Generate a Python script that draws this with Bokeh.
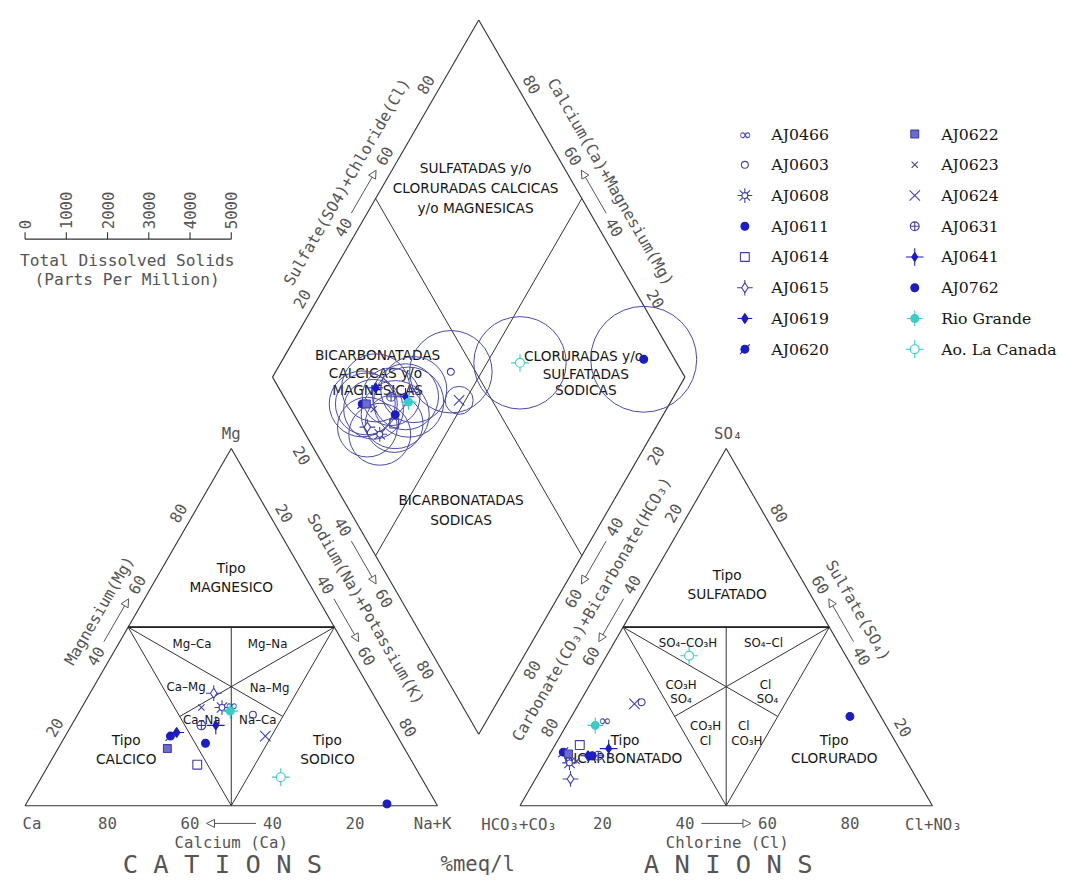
import math
from bokeh.plotting import figure
from bokeh.models import Range1d, Arrow, NormalHead, ColumnDataSource
from bokeh.core.properties import value
from bokeh.embed import file_html
from bokeh.resources import INLINE

# ---------------- data ----------------
samples = ["AJ0466", "AJ0603", "AJ0608", "AJ0611", "AJ0614", "AJ0615", "AJ0619", "AJ0620",
           "AJ0622", "AJ0623", "AJ0624", "AJ0631", "AJ0641", "AJ0762", "Rio Grande", "Ao. La Canada"]
# cations, % meq/l
ca = [36, 32, 38.5, 12, 52.5, 38.5, 53, 55, 57.5, 43.5, 32, 46, 42.5, 47.5, 37, 34]
mg = [28, 25.5, 27.5, 0.5, 11.5, 31.5, 20.5, 19.5, 16, 27.5, 19.5, 22.5, 22.5, 17.5, 26.5, 8]
na_k = [36, 42.5, 34, 87.5, 36, 30, 26.5, 25.5, 26.5, 29, 48.5, 31.5, 35, 35, 36.5, 58]
# anions, % meq/l
hco3 = [67.5, 56, 82, 7.5, 77, 84, 76.5, 82, 81, 80, 58, 74, 70.5, 75.5, 70.5, 38]
so4 = [24, 29, 12, 25, 17, 7.5, 14, 15, 14.5, 12.5, 28.5, 14, 16, 14, 22.5, 42]
cl = [8.5, 15, 6, 67.5, 6, 8.5, 9.5, 3, 4.5, 7.5, 13.5, 12, 13.5, 10.5, 7, 20]
# total dissolved solids, ppm
tds = [1600, 2000, 1500, 2570, 1400, 1450, 1650, 1600, 1500, 1450, 680, 1400, 1600, 1650, 1700, 2240]
tds_ticks = [0, 1000, 2000, 3000, 4000, 5000]
scale_ticks = [20, 40, 60, 80]

# ---------------- layout ----------------
H = math.sqrt(3) / 2
GAP = 20.0
S = 0.982                 # fit the 1090x894 design into the 1074x878 figure
PXU = 4.2                 # design pixels per data unit
OX, OY = 25.0, 820.0      # design pixel of the Ca corner
GRAY = "#555555"
BLACK = "#151515"
LINE = "#333333"
FONT = value("DejaVu Sans")
MONO = value("DejaVu Sans Mono")


def P(px, py):
    return ((px - OX) / PXU, (OY - py) / PXU)


def U(px):
    return px / PXU


def fs(px):
    return f"{px * S:.1f}px"


A = (0.0, 0.0); B = (100.0, 0.0); C = (50.0, 100 * H)
D = (100 + GAP, 0.0); E = (200 + GAP, 0.0); F = (150 + GAP, 100 * H)
LV = (50 + GAP / 2, (100 + GAP) * H); TV = (100 + GAP / 2, (200 + GAP) * H)
RV = (150 + GAP / 2, (100 + GAP) * H); BV = (100 + GAP / 2, GAP * H)


def lerp(a, b, t):
    return (a[0] + (b[0] - a[0]) * t, a[1] + (b[1] - a[1]) * t)


def cat_xy(c, m, n):
    s = c + m + n
    m, n = m * 100 / s, n * 100 / s
    return n + m / 2, m * H


def ani_xy(h, s4, c):
    s = h + s4 + c
    s4, c = s4 * 100 / s, c * 100 / s
    return 100 + GAP + c + s4 / 2, s4 * H


def dia_xy(n, s):
    return LV[0] + 0.5 * (n + s), LV[1] + H * (s - n)


W, HH = 1074, 878
x0 = -OX / PXU
y1 = OY / PXU
span_x = W / (PXU * S)
span_y = HH / (PXU * S)
p = figure(width=W, height=HH, x_range=Range1d(x0, x0 + span_x), y_range=Range1d(y1 - span_y, y1),
           output_backend="svg", toolbar_location=None, min_border=0,
           x_axis_location=None, y_axis_location=None)
p.grid.visible = False
p.outline_line_color = None

# ---------------- frame lines ----------------
segs = []
def poly(*pts):
    for i in range(len(pts) - 1):
        segs.append((pts[i], pts[i + 1]))

poly(A, B, C, A)
poly(D, E, F, D)
poly(LV, TV, RV, BV, LV)
inner = []
inner.append((cat_xy(50, 50, 0), cat_xy(0, 50, 50)))
inner.append((cat_xy(50, 50, 0), cat_xy(50, 0, 50)))
inner.append((cat_xy(0, 50, 50), cat_xy(50, 0, 50)))
inner.append((cat_xy(25, 50, 25), cat_xy(50, 0, 50)))
inner.append((cat_xy(50, 50, 0), cat_xy(25, 25, 50)))
inner.append((cat_xy(0, 50, 50), cat_xy(50, 25, 25)))
inner.append((ani_xy(50, 50, 0), ani_xy(0, 50, 50)))
inner.append((ani_xy(50, 50, 0), ani_xy(50, 0, 50)))
inner.append((ani_xy(0, 50, 50), ani_xy(50, 0, 50)))
inner.append((ani_xy(25, 50, 25), ani_xy(50, 0, 50)))
inner.append((ani_xy(50, 50, 0), ani_xy(25, 25, 50)))
inner.append((ani_xy(0, 50, 50), ani_xy(50, 25, 25)))
inner.append((lerp(LV, TV, 0.5), lerp(RV, BV, 0.5)))
inner.append((lerp(TV, RV, 0.5), lerp(BV, LV, 0.5)))

p.multi_line(xs=[[a[0], b[0]] for a, b in segs], ys=[[a[1], b[1]] for a, b in segs],
             line_color=LINE, line_width=1.1)
p.multi_line(xs=[[a[0], b[0]] for a, b in inner], ys=[[a[1], b[1]] for a, b in inner],
             line_color=LINE, line_width=1.0)
p.multi_line(xs=[[inner[0][0][0], inner[0][1][0]], [inner[6][0][0], inner[6][1][0]]],
             ys=[[inner[0][0][1], inner[0][1][1]], [inner[6][0][1], inner[6][1][1]]],
             line_color="#222222", line_width=1.6)

# ---------------- scales on edges ----------------
tx, ty, tt, ta = [], [], [], []
def add_text(pos, txt, ang=0.0):
    tx.append(pos[0]); ty.append(pos[1]); tt.append(txt); ta.append(ang)

edges = [
    # P0, P1, normal, angle, label offset px, title, title offset px
    (A, C, (-H, 0.5), math.pi / 3, 14, "Magnesium(Mg)", 34),
    (C, B, (H, 0.5), -math.pi / 3, 14, "Sodium(Na)+Potassium(K)", 37),
    (B, A, (0.0, -1.0), 0.0, 18, None, 0),
    (LV, TV, (-H, 0.5), math.pi / 3, 14, "Sulfate(SO4)+Chloride(Cl)", 34),
    (RV, TV, (H, 0.5), -math.pi / 3, 14, "Calcium(Ca)+Magnesium(Mg)", 34),
    (LV, BV, (-H, -0.5), -math.pi / 3, 14, None, 0),
    (RV, BV, (H, -0.5), math.pi / 3, 14, None, 0),
    (F, D, (-H, 0.5), math.pi / 3, 14, "Carbonate(CO\u2083)+Bicarbonate(HCO\u2083)", 37),
    (E, F, (H, 0.5), -math.pi / 3, 14, "Sulfate(SO\u2084)", 34),
    (D, E, (0.0, -1.0), 0.0, 18, None, 0),
]
head = dict(size=8, fill_color="white", line_color=GRAY, line_width=1)
for P0, P1, nrm, ang, off, title, toff in edges:
    o = U(off)
    for v in scale_ticks:
        q = lerp(P0, P1, v / 100)
        add_text((q[0] + nrm[0] * o, q[1] + nrm[1] * o), str(v), ang)
    s0 = lerp(P0, P1, 0.44)
    s1 = lerp(P0, P1, 0.56)
    p.add_layout(Arrow(x_start=s0[0] + nrm[0] * o, y_start=s0[1] + nrm[1] * o,
                       x_end=s1[0] + nrm[0] * o, y_end=s1[1] + nrm[1] * o,
                       line_color=GRAY, line_width=1, end=NormalHead(**head)))
    if title:
        q = lerp(P0, P1, 0.5)
        add_text((q[0] + nrm[0] * U(toff), q[1] + nrm[1] * U(toff)), title, ang)

add_text(P(235, 441), "Mg")
add_text(P(741, 441), "SO\u2084")
add_text(P(32, 838), "Ca")
add_text(P(440, 838), "Na+K")
add_text(P(528, 839), "HCO\u2083+CO\u2083")
add_text(P(950, 839), "Cl+NO\u2083")
add_text(P(235, 857), "Calcium (Ca)")
add_text(P(740, 857), "Chlorine (Cl)")
p.text(x=tx, y=ty, text=tt, angle=ta, text_align="center", text_baseline="middle",
       text_font=MONO, text_font_size=fs(16), text_color=GRAY)

big = ["C A T I O N S", "A N I O N S"]
bpos = [P(226, 879), P(741, 879)]
p.text(x=[q[0] for q in bpos], y=[q[1] for q in bpos], text=big, text_align="center",
       text_baseline="middle", text_font=MONO, text_font_size=fs(26), text_color=GRAY)
q = P(486, 879)
p.text(x=[q[0]], y=[q[1]], text=["%meq/l"], text_align="center", text_baseline="middle",
       text_font=MONO, text_font_size=fs(21), text_color=GRAY)

# ---------------- region labels ----------------
reg = [
    ((235, 578), "Tipo"), ((235, 597), "MAGNESICO"),
    ((195, 655), "Mg\u2013Ca"), ((272, 655), "Mg\u2013Na"),
    ((189, 699), "Ca\u2013Mg"), ((274, 700), "Na\u2013Mg"),
    ((205, 733), "Ca\u2013Na"), ((262, 733), "Na\u2013Ca"),
    ((128, 753), "Tipo"), ((128, 772), "CALCICO"),
    ((333, 753), "Tipo"), ((333, 772), "SODICO"),
    ((740, 585), "Tipo"), ((740, 604), "SULFATADO"),
    ((700, 654), "SO\u2084\u2013CO\u2083H"), ((777, 654), "SO\u2084\u2013Cl"),
    ((693, 697), "CO\u2083H"), ((693, 711), "SO\u2084"),
    ((779, 697), "Cl"), ((781, 711), "SO\u2084"),
    ((718, 739), "CO\u2083H"), ((718, 754), "Cl"),
    ((757, 739), "Cl"), ((760, 754), "CO\u2083H"),
    ((636, 753), "Tipo"), ((634, 771), "BICARBONATADO"),
    ((849, 753), "Tipo"), ((849, 771), "CLORURADO"),
    ((486, 171), "SULFATADAS  y/o"), ((486, 191), "CLORURADAS  CALCICAS"), ((486, 211), "y/o  MAGNESICAS"),
    ((384, 361), "BICARBONATADAS"), ((384, 379), "CALCICAS  y/o"), ((384, 397), "MAGNESICAS"),
    ((596, 362), "CLORURADAS  y/o"), ((596, 380), "SULFATADAS"), ((596, 397), "SODICAS"),
    ((469, 509), "BICARBONATADAS"), ((469, 529), "SODICAS"),
]
small = {"Mg\u2013Ca", "Mg\u2013Na", "Ca\u2013Mg", "Na\u2013Mg", "Ca\u2013Na", "Na\u2013Ca",
         "SO\u2084\u2013CO\u2083H", "SO\u2084\u2013Cl", "CO\u2083H", "SO\u2084", "Cl"}
r1 = [(P(*q), t) for q, t in reg if t not in small]
r2 = [(P(*q), t) for q, t in reg if t in small]
p.text(x=[q[0] for q, _ in r1], y=[q[1] for q, _ in r1], text=[t for _, t in r1],
       text_align="center", text_baseline="middle", text_font=FONT, text_font_size=fs(14),
       text_color=BLACK)
p.text(x=[q[0] for q, _ in r2], y=[q[1] for q, _ in r2], text=[t for _, t in r2],
       text_align="center", text_baseline="middle", text_font=FONT, text_font_size=fs(12),
       text_color=BLACK)

# ---------------- TDS scale ----------------
sy = P(0, 243)[1]
p.line(x=[tds_ticks[0] / 100, tds_ticks[-1] / 100], y=[sy, sy], line_color=LINE, line_width=1.1)
p.segment(x0=[t / 100 for t in tds_ticks], y0=[sy] * len(tds_ticks),
          x1=[t / 100 for t in tds_ticks], y1=[sy + U(7)] * len(tds_ticks),
          line_color=LINE, line_width=1.1)
p.text(x=[t / 100 for t in tds_ticks], y=[sy + U(10)] * len(tds_ticks), text=[str(t) for t in tds_ticks],
       angle=math.pi / 2, text_align="left", text_baseline="middle", text_font=MONO,
       text_font_size=fs(16), text_color=GRAY)
lab = [P(129, 265), P(129, 284)]
p.text(x=[q[0] for q in lab], y=[q[1] for q in lab],
       text=["Total Dissolved Solids", "(Parts Per Million)"], text_align="center",
       text_baseline="middle", text_font=MONO, text_font_size=fs(16.5), text_color=GRAY)

# ---------------- samples ----------------
cat_pts = [cat_xy(ca[i], mg[i], na_k[i]) for i in range(len(samples))]
ani_pts = [ani_xy(hco3[i], so4[i], cl[i]) for i in range(len(samples))]
dia_pts = []
for i in range(len(samples)):
    n = na_k[i] * 100 / (ca[i] + mg[i] + na_k[i])
    s = (so4[i] + cl[i]) * 100 / (hco3[i] + so4[i] + cl[i])
    dia_pts.append(dia_xy(n, s))

# TDS circles: diameter scaled like the TDS bar (5000 ppm = half a triangle side)
p.circle(x=[q[0] for q in dia_pts], y=[q[1] for q in dia_pts], radius=[t / 200 for t in tds],
         fill_color=None, line_color="#4a4aa8", line_width=1)

BLUE = "#4040a8"
DBLUE = "#1c1cc4"
CYAN = "#38cccc"
styles = {
    "AJ0466": [("text", "\u221e", 16, BLUE, None, 0)],
    "AJ0603": [("circle", None, 7, BLUE, None, 0)],
    "AJ0608": [("asterisk", None, 15, BLUE, None, 0), ("circle", None, 6, BLUE, "white", 0)],
    "AJ0611": [("circle", None, 8, DBLUE, DBLUE, 0)],
    "AJ0614": [("square", None, 9, BLUE, None, 0)],
    "AJ0615": [("cross", None, 16, BLUE, None, 0), ("diamond", None, 10, BLUE, "white", 0)],
    "AJ0619": [("dash", None, 15, DBLUE, None, 0), ("diamond", None, 10, DBLUE, DBLUE, 0)],
    "AJ0620": [("dash", None, 14, DBLUE, None, math.pi / 4), ("circle", None, 8, DBLUE, DBLUE, 0)],
    "AJ0622": [("square", None, 8, BLUE, "#6a6ad0", 0)],
    "AJ0623": [("x", None, 9, BLUE, None, 0)],
    "AJ0624": [("x", None, 15, BLUE, None, 0)],
    "AJ0631": [("circle_cross", None, 9, BLUE, None, 0)],
    "AJ0641": [("cross", None, 18, DBLUE, None, 0), ("diamond", None, 9, DBLUE, DBLUE, 0)],
    "AJ0762": [("circle", None, 8, DBLUE, DBLUE, 0)],
    "Rio Grande": [("cross", None, 16, CYAN, None, 0), ("circle", None, 8, CYAN, CYAN, 0)],
    "Ao. La Canada": [("cross", None, 18, CYAN, None, 0), ("circle", None, 9, CYAN, "white", 0)],
}

leg_x, leg_y = [], []
for i, name in enumerate(samples):
    col, row = divmod(i, 8)
    q = P(758 + 173 * col, 136 + 31.3 * row)
    leg_x.append(q[0]); leg_y.append(q[1])
    xs = [cat_pts[i][0], ani_pts[i][0], dia_pts[i][0], q[0]]
    ys = [cat_pts[i][1], ani_pts[i][1], dia_pts[i][1], q[1]]
    src = ColumnDataSource(dict(x=xs, y=ys))
    for kind, txt, size, lc, fc, ang in styles[name]:
        if kind == "text":
            p.text(x="x", y="y", source=src, text=value(txt), text_align="center",
                   text_baseline="middle", text_font=FONT, text_font_size=fs(size), text_color=lc)
        else:
            p.scatter(x="x", y="y", source=src, marker=kind, size=size * S, line_color=lc,
                      fill_color=fc if fc else None, line_width=1.1, angle=ang)

p.text(x=[x + U(27) for x in leg_x], y=leg_y, text=samples, text_align="left",
       text_baseline="middle", text_font=value("DejaVu Serif"), text_font_size=fs(16),
       text_color=BLACK)

open("out.html", "w").write(file_html(p, INLINE))
